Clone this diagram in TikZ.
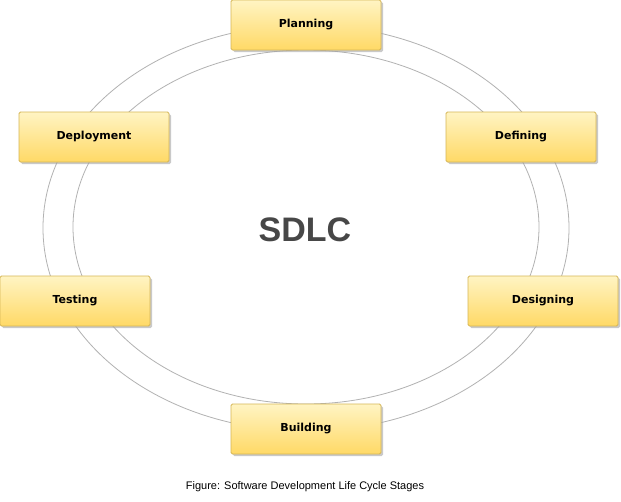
\documentclass[tikz,border=0pt]{standalone}
\usepackage{fontspec}
\setmainfont{Liberation Sans}
\newfontfamily\boxfont{DejaVu Sans}
\usetikzlibrary{shadows}
\definecolor{boxtop}{HTML}{FFF4C3}
\definecolor{boxbot}{HTML}{FFD966}
\definecolor{boxline}{HTML}{D6B656}
\tikzset{
  stage/.style={draw=boxline, line width=0.8pt, rounded corners=1.5pt, top color=boxtop, bottom color=boxbot,
    minimum width=150pt, minimum height=50pt, inner sep=0pt,
    font=\boxfont\bfseries\fontsize{11}{13}\selectfont,
    drop shadow={shadow xshift=2pt, shadow yshift=-2pt, fill=black!35, opacity=0.6}},
  ring/.style={draw=black!30, line width=0.8pt}
}
\begin{document}
\begin{tikzpicture}[x=1pt,y=-1pt]
\useasboundingbox[fill=white] (0,0) rectangle (621,501);
\draw[ring] (306,228) ellipse [x radius=263, y radius=203];
\draw[ring] (306,227) ellipse [x radius=233, y radius=177];
\node[font=\bfseries\fontsize{34}{40}\selectfont, text=black!72] (sdlc) at (305,230) {SDLC};
\node[stage] (planning) at (306,25) {Planning};
\node[stage] (defining) at (521,137) {Defining};
\node[stage] (designing) at (543,301) {Designing};
\node[stage] (building) at (306,429) {Building};
\node[stage] (testing) at (75,301) {Testing};
\node[stage] (deployment) at (94,137) {Deployment};
\node[font=\fontsize{11}{13}\selectfont] (caption) at (305,487) {Figure: Software Development Life Cycle Stages};
\end{tikzpicture}
\end{document}
